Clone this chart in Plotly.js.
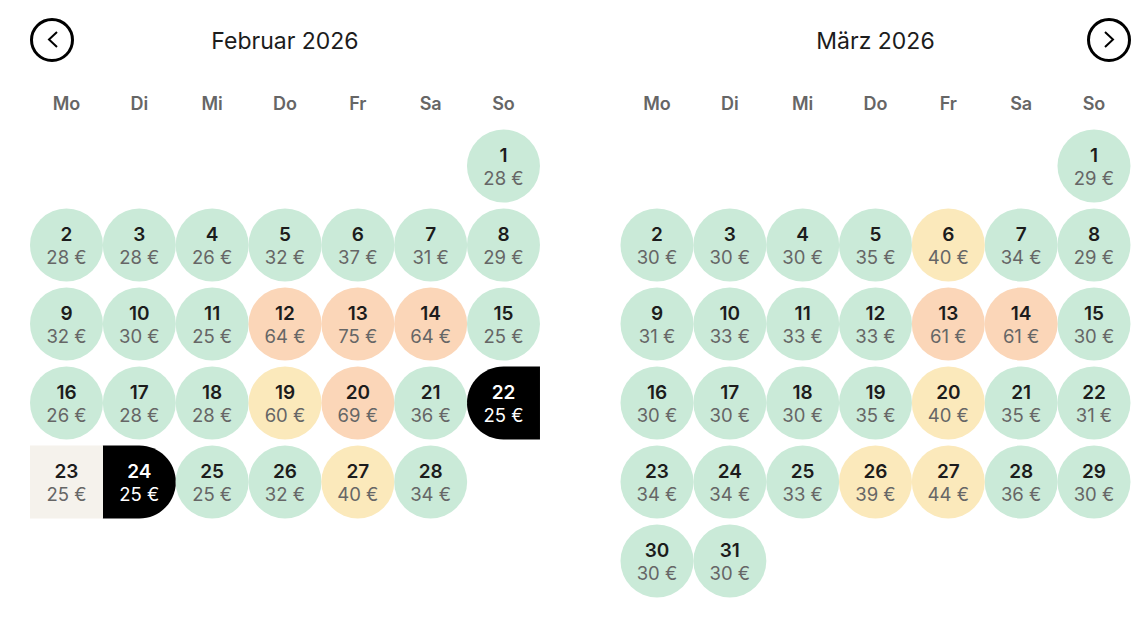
<!DOCTYPE html>
<html><head><meta charset="utf-8">
<script src="https://cdn.plot.ly/plotly-3.0.1.min.js"></script>
<style>html,body{margin:0;padding:0;background:#fff;overflow:hidden}#c{width:1142px;height:617px}</style>
</head><body><div id="c"></div>
<script>
const weekdays = ['Mo','Di','Mi','Do','Fr','Sa','So'];
const febTitle = 'Februar 2026';
const marTitle = 'März 2026';
const febPrices = [28,28,28,26,32,37,31,29,32,30,25,64,75,64,25,26,28,28,60,69,36,25,25,25,25,32,40,34];
const marPrices = [29,30,30,30,35,40,34,29,31,33,33,33,61,61,30,30,30,30,35,40,35,31,34,34,33,39,44,36,30,30,30];
const febYellow = [19,27];
const febPeach = [12,13,14,20];
const marYellow = [6,20,26,27];
const marPeach = [13,14];
const febRangeStart = 22, febRangeMiddle = 23, febRangeEnd = 24;

const CW = 72.83, CH = 79, D = 73;
const X0 = {feb:66.5, mar:657}, Y0 = 166;
const GREEN='#CAEAD8', YELLOW='#FBE9BB', PEACH='#FBD6B8', BEIGE='#F5F2EC', BLACK='#000000';
const DARK='#1c1c1c', GREY='#666666';
const FONT='Inter, "Open Sans", sans-serif';

const cx = (m,d)=>X0[m]+((d+5)%7)*CW;
const cy = d=>Y0+Math.floor((d+5)/7)*CH;

const months = [
  {key:'feb', prices:febPrices, yellow:febYellow, peach:febPeach},
  {key:'mar', prices:marPrices, yellow:marYellow, peach:marPeach}
];
const traces = [];
const dayT = {x:[],y:[],text:[],color:[]}, priceT = {x:[],y:[],text:[],color:[]};
const groups = {};
function add(fill,x,y){(groups[fill]=groups[fill]||{x:[],y:[]}).x.push(x);groups[fill].y.push(y);}
months.forEach(m=>{
  m.prices.forEach((p,i)=>{
    const d=i+1, x=cx(m.key,d), y=cy(d);
    const start = m.key==='feb'&&(d===febRangeStart||d===febRangeEnd);
    const mid = m.key==='feb'&&d===febRangeMiddle;
    if(!start && !mid) add(m.peach.includes(d)?PEACH:m.yellow.includes(d)?YELLOW:GREEN,x,y);
    dayT.x.push(x);dayT.y.push(y-9);dayT.text.push(String(d));dayT.color.push(start?'#fff':DARK);
    priceT.x.push(x);priceT.y.push(y+14);priceT.text.push(p+' €');priceT.color.push(start?'#fff':GREY);
  });
});
Object.keys(groups).forEach(c=>traces.push({type:'scatter',mode:'markers',x:groups[c].x,y:groups[c].y,hoverinfo:'skip',
  marker:{symbol:'circle',size:D,color:c,line:{width:0}}}));
traces.push({type:'scatter',mode:'text',x:dayT.x,y:dayT.y,text:dayT.text,textposition:'middle center',hoverinfo:'skip',
  textfont:{family:FONT,size:19,weight:600,color:dayT.color}});
traces.push({type:'scatter',mode:'text',x:priceT.x,y:priceT.y,text:priceT.text,textposition:'middle center',hoverinfo:'skip',
  textfont:{family:FONT,size:18.5,weight:400,color:priceT.color}});
['feb','mar'].forEach(m=>traces.push({type:'scatter',mode:'text',
  x:weekdays.map((_,i)=>X0[m]+i*CW),y:weekdays.map(()=>105),text:weekdays,textposition:'middle center',hoverinfo:'skip',
  textfont:{family:FONT,size:18,weight:600,color:GREY}}));
traces.push({type:'scatter',mode:'text',x:[X0.feb+3*CW,X0.mar+3*CW],y:[43,43],text:[febTitle,marTitle],textposition:'middle center',hoverinfo:'skip',
  textfont:{family:FONT,size:23,weight:400,color:DARK}});
const BTN=[52,1109];
traces.push({type:'scatter',mode:'markers',x:BTN,y:[40,40],hoverinfo:'skip',
  marker:{symbol:'circle-open',size:41,color:'#000',line:{width:3,color:'#000'}}});

// half-round black range ends: side = -1 rounds the left edge, +1 the right edge
const K = 0.5523;
function capPath(d,side){
  const x=cx('feb',d), y=cy(d), r=D/2, e=x+side*r, o=x-side*r, k=r*K;
  return `M ${o} ${y-r} L ${x} ${y-r} C ${x+side*k} ${y-r} ${e} ${y-k} ${e} ${y} C ${e} ${y+k} ${x+side*k} ${y+r} ${x} ${y+r} L ${o} ${y+r} Z`;
}
const shapes=[
  {type:'path',layer:'below',xref:'x',yref:'y',path:capPath(febRangeStart,-1),fillcolor:BLACK,line:{width:0}},
  {type:'path',layer:'below',xref:'x',yref:'y',path:capPath(febRangeEnd,1),fillcolor:BLACK,line:{width:0}}
];
(()=>{const x=cx('feb',febRangeMiddle),y=cy(febRangeMiddle);
  shapes.push({type:'rect',layer:'below',xref:'x',yref:'y',x0:x-D/2,x1:x+D/2,y0:y-D/2,y1:y+D/2,fillcolor:BEIGE,line:{width:0}});})();
shapes.push({type:'path',path:`M ${BTN[0]+5} 32 L ${BTN[0]-3} 39.5 L ${BTN[0]+5} 47`,line:{color:'#000',width:2},xref:'x',yref:'y'});
shapes.push({type:'path',path:`M ${BTN[1]-4} 32 L ${BTN[1]+4} 39.5 L ${BTN[1]-4} 47`,line:{color:'#000',width:2},xref:'x',yref:'y'});

Plotly.newPlot('c',traces,{
  width:1142,height:617,margin:{l:0,r:0,t:0,b:0},showlegend:false,
  paper_bgcolor:'#fff',plot_bgcolor:'#fff',
  xaxis:{range:[0,1142],visible:false,fixedrange:true},
  yaxis:{range:[617,0],visible:false,fixedrange:true},
  shapes:shapes
},{displayModeBar:false,staticPlot:true});
</script></body></html>
